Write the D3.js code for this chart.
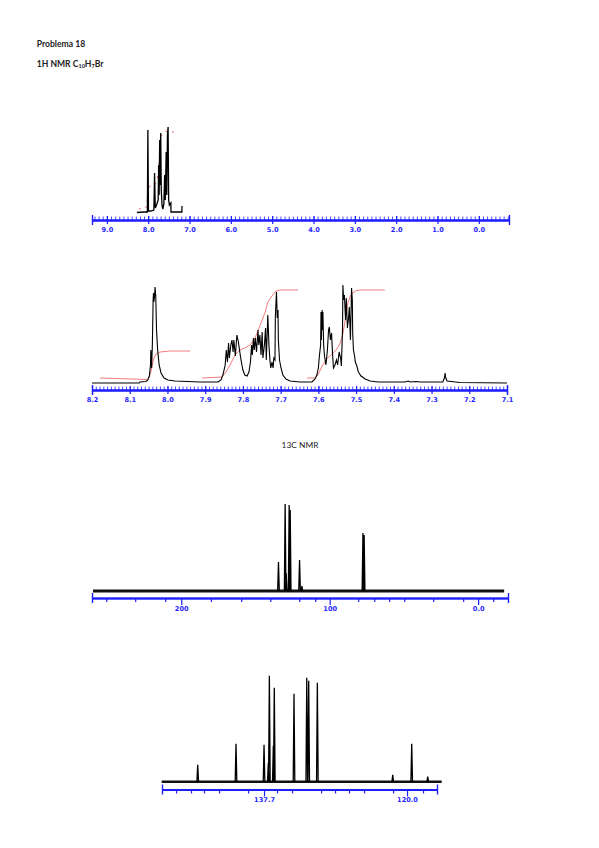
<!DOCTYPE html>
<html><head><meta charset="utf-8">
<script src="https://cdn.jsdelivr.net/npm/d3@7"></script>
<style>body{margin:0;background:#fff}svg{display:block}</style>
</head><body>
<svg id="c" width="599" height="848"></svg>
<script>
// ---------- DATA ----------
// Panel 1: 1H NMR full range (ppm, intensity)
const h1FullExtent = [9.36, -0.73];
const h1FullTicks = [9, 8, 7, 6, 5, 4, 3, 2, 1, 0];
const h1FullTickLabels = ["9.0","8.0","7.0","6.0","5.0","4.0","3.0","2.0","1.0","0.0"];
const h1FullSpectrum = [
 [8.274,-0.5],[8.105,0],[8.020,0],[8.008,82],[7.994,1],[7.935,1],[7.863,2],[7.846,39],[7.829,4],
 [7.790,8],[7.759,12],[7.747,47],[7.735,17],[7.722,72],[7.710,27],[7.698,79],[7.684,22],[7.664,6],
 [7.645,3],[7.621,8],[7.602,37],[7.587,12],[7.565,60],[7.551,17],[7.534,77],[7.519,85],[7.505,12],
 [7.488,7],[7.451,9],[7.449,0],[7.185,0],[7.183,6]
];
const h1FullIntegral = [
 [8.226,3],[8.056,4],[8.008,17],[7.960,26],[7.839,27],[7.790,31],[7.754,40],[7.718,60],[7.681,76],
 [7.645,80],[7.572,81],[7.524,80],[7.379,80]
];

// Panel 2: 1H NMR expansion 8.2 - 7.1 ppm
const h1ExpExtent = [8.2, 7.1];
const h1ExpTicks = [8.2,8.1,8.0,7.9,7.8,7.7,7.6,7.5,7.4,7.3,7.2,7.1];
const h1ExpTickLabels = ["8.2","8.1","8.0","7.9","7.8","7.7","7.6","7.5","7.4","7.3","7.2","7.1"];
const h1ExpSpectrum = [
 [8.200,0],[8.075,0],[8.073,1],[8.057,1.5],[8.052,3],[8.048,7],[8.045,18],[8.044,33],[8.042,15],
 [8.040,38],[8.038,83],[8.037,90],[8.036,81],[8.034,87],[8.033,96],[8.031,87],[8.029,53],[8.026,33],
 [8.022,18],[8.017,10],[8.009,5],[7.999,3],[7.980,2],[7.914,1],[7.866,1],[7.858,3],[7.853,8],
 [7.847,18],[7.844,33],[7.841,21],[7.838,40],[7.836,25],[7.832,38],[7.829,43],[7.826,31],[7.824,43],
 [7.820,27],[7.816,48],[7.812,41],[7.809,33],[7.805,23],[7.800,13],[7.795,8],[7.789,7],[7.784,11],
 [7.780,21],[7.777,38],[7.775,28],[7.772,45],[7.770,33],[7.767,45],[7.764,31],[7.760,53],[7.758,38],
 [7.755,48],[7.752,28],[7.749,51],[7.747,25],[7.743,38],[7.740,55],[7.738,23],[7.734,68],[7.731,38],
 [7.728,21],[7.726,15],[7.723,21],[7.720,15],[7.718,25],[7.715,23],[7.714,66],[7.712,83],[7.711,91],
 [7.709,65],[7.707,73],[7.706,43],[7.703,23],[7.699,15],[7.694,8],[7.686,4],[7.675,2],[7.649,1],
 [7.617,1],[7.609,4],[7.604,8],[7.600,15],[7.597,28],[7.594,38],[7.593,71],[7.592,43],[7.590,73],
 [7.589,53],[7.588,71],[7.586,38],[7.584,28],[7.580,18],[7.576,33],[7.573,53],[7.571,56],[7.568,43],
 [7.565,50],[7.563,33],[7.560,15],[7.556,18],[7.552,23],[7.549,18],[7.545,31],[7.541,25],[7.539,17],
 [7.536,53],[7.535,98],[7.533,83],[7.531,88],[7.528,63],[7.526,85],[7.523,55],[7.520,65],[7.518,76],
 [7.515,43],[7.512,95],[7.510,83],[7.509,50],[7.507,33],[7.504,27],[7.502,21],[7.498,17],[7.494,11],
 [7.487,7],[7.476,4],[7.463,2],[7.442,1],[7.370,1],[7.362,2],[7.357,1],[7.341,1.5],[7.331,1],
 [7.270,1],[7.266,5],[7.264,10],[7.263,6],[7.259,2],[7.225,0.5],[7.100,0]
];
const h1ExpIntegral1 = [[8.179,5],[8.054,3.5],[8.049,5],[8.044,11],[8.040,18],[8.036,25],[8.030,29],[8.020,31],[7.993,32],[7.940,32]];
const h1ExpIntegral2 = [[7.908,5],[7.855,6],[7.845,11],[7.834,18],[7.821,28],[7.808,33],[7.795,35],[7.781,38],[7.768,45],[7.755,57],[7.741,71],[7.734,81],[7.723,87],[7.712,92],[7.702,93],[7.654,93]];
const h1ExpIntegral3 = [[7.630,5],[7.609,5],[7.601,8],[7.590,17],[7.580,23],[7.567,28],[7.553,33],[7.543,39],[7.535,49],[7.527,67],[7.522,80],[7.514,88],[7.503,92],[7.490,93],[7.424,93]];

// Panel 3: 13C NMR full range
const c13FullExtent = [260.1, -20.1];
const c13FullBaseline = [259.4, -17.5];
const c13FullTicks = [200, 100, 0];
const c13FullTickLabels = ["200", "100", "0.0"];
const c13FullMinorTicks = [250.5, 231, 210.8, 180, 159.6, 140, 120.5, 109.8, 80.8, 70, 60, 49.8, 30.3, 10.1, -10.1];
const c13FullPeaks = [[134.5,29],[130.0,87],[129.3,18],[127.3,86],[126.6,81],[120.3,31],[118.7,5],[77.6,58],[76.8,56]];

// Panel 4: 13C NMR expansion
const c13ExpExtent = [150.33, 116.29];
const c13ExpBaseline = [150.37, 115.71];
const c13ExpTicks = [137.7, 120.0];
const c13ExpTickLabels = ["137.7", "120.0"];
const c13ExpMinorTicks = [148.59,146.74,145.13,143.27,139.68,136.09,134.23,130.64,128.91,127.18,125.32,121.73,118.02];
const c13ExpPeaks = [[145.91,17],[141.17,38],[137.70,37],[137.17,19],[137.04,106],[136.55,36],[136.43,94],[133.99,88],[132.41,104],[132.17,101],[131.10,99],[121.77,7],[119.42,38],[117.44,5]];

// ---------- DRAWING ----------
const svg = d3.select("#c");
const BLUE = "#1e1eff";
const RED = "#f06464";

svg.append("text").attr("x", 36.7).attr("y", 46.5)
  .attr("font-family", "Lato").attr("font-weight", "bold").attr("font-size", 8.6)
  .attr("fill", "#222").text("Problema 18");
const t2 = svg.append("text").attr("x", 36.7).attr("y", 66.7)
  .attr("font-family", "Lato").attr("font-weight", "bold").attr("font-size", 8.6).attr("fill", "#222");
t2.append("tspan").text("1H NMR C");
t2.append("tspan").attr("font-size", 5.5).attr("dy", 1.5).text("10");
t2.append("tspan").attr("dy", -1.5).text("H");
t2.append("tspan").attr("font-size", 5.5).attr("dy", 1.5).text("7");
t2.append("tspan").attr("dy", -1.5).text("Br");

svg.append("text").attr("x", 300).attr("y", 448.3).attr("text-anchor", "middle")
  .attr("font-family", "Lato").attr("font-size", 8.4).attr("fill", "#222").text("13C NMR");

function makeAxis(x, axisY, majors, labels, minors, up) {
  const g = svg.append("g").attr("transform", `translate(0,${axisY})`);
  const minorAxis = (up ? d3.axisTop(x) : d3.axisBottom(x))
    .tickValues(minors).tickSize(up ? 3.5 : 4).tickSizeOuter(0).tickFormat("");
  const gm = g.append("g").call(minorAxis);
  gm.selectAll(".tick line").attr("stroke-width", up ? 0.8 : 1.2);
  const majorAxis = d3.axisBottom(x).tickValues(majors)
    .tickFormat((d, i) => labels[i]).tickSize(up ? 4 : 7).tickPadding(up ? 3 : 1).tickSizeOuter(0);
  const gb = g.append("g").call(majorAxis);
  gb.selectAll(".tick line").attr("stroke-width", 1.2);
  if (up) {
    g.append("g").call(d3.axisTop(x).tickValues(majors).tickSize(4).tickSizeOuter(0).tickFormat(""))
      .selectAll(".tick line").attr("stroke-width", 1.2);
  }
  // end bars
  g.append("g").call(d3.axisBottom(x).tickValues(x.domain()).tickSize(5).tickSizeOuter(0).tickFormat(""))
    .selectAll(".tick line").attr("stroke-width", 1.4);
  g.append("g").call(d3.axisTop(x).tickValues(x.domain()).tickSize(5).tickSizeOuter(0).tickFormat(""))
    .selectAll(".tick line").attr("stroke-width", 1.4);
  g.selectAll("path.domain").attr("stroke", BLUE).attr("stroke-width", 1.5);
  g.selectAll(".tick line").attr("stroke", BLUE);
  g.selectAll(".tick text").attr("fill", BLUE).attr("font-family", "DejaVu Sans")
    .attr("font-weight", "bold").attr("font-size", 6.6);
}

// Panel 1
{
  const x = d3.scaleLinear().domain(h1FullExtent).range([92, 509]);
  const y = d3.scaleLinear().domain([0, 85]).range([212, 127]);
  makeAxis(x, 220, h1FullTicks, h1FullTickLabels, d3.range(-7, 94).map(i => i / 10), true);
  const line = d3.line().x(d => x(d[0])).y(d => y(d[1]));
  svg.append("path").datum(h1FullIntegral).attr("d", line).attr("fill", "none")
    .attr("stroke", RED).attr("stroke-width", 1).attr("stroke-dasharray", "2,5");
  svg.append("path").datum(h1FullSpectrum).attr("d", line).attr("fill", "none")
    .attr("stroke", "#000").attr("stroke-width", 1.3);
}

// Panel 2
{
  const x = d3.scaleLinear().domain(h1ExpExtent).range([92, 507]);
  const y = d3.scaleLinear().domain([0, 98]).range([383, 285]);
  makeAxis(x, 390, h1ExpTicks, h1ExpTickLabels, d3.range(710, 821).map(i => i / 100), true);
  const line = d3.line().x(d => x(d[0])).y(d => y(d[1]));
  [h1ExpIntegral1, h1ExpIntegral2, h1ExpIntegral3].forEach(dat => {
    svg.append("path").datum(dat).attr("d", line).attr("fill", "none")
      .attr("stroke", RED).attr("stroke-width", 1).attr("opacity", 0.85);
  });
  svg.append("path").datum(h1ExpSpectrum).attr("d", line).attr("fill", "none")
    .attr("stroke", "#000").attr("stroke-width", 1.1);
}

function stickPath(x, y, peaks) {
  // each peak drawn as a narrow spike from baseline to its height
  return peaks.map(p => {
    const px = x(p[0]);
    return `M${px - 0.8},${y(0)}L${px},${y(p[1])}L${px + 0.8},${y(0)}`;
  }).join("");
}

// Panel 3
{
  const x = d3.scaleLinear().domain(c13FullExtent).range([92, 508]);
  const y = d3.scaleLinear().domain([0, 87]).range([591, 504]);
  makeAxis(x, 598, c13FullTicks, c13FullTickLabels, c13FullMinorTicks, false);
  const line = d3.line().x(d => x(d[0])).y(d => y(d[1]));
  svg.append("path").datum(c13FullBaseline.map(v => [v, 0])).attr("d", line)
    .attr("stroke", "#111").attr("stroke-width", 2.8).attr("fill", "none");
  svg.append("path").attr("d", stickPath(x, y, c13FullPeaks)).attr("fill", "none")
    .attr("stroke", "#000").attr("stroke-width", 1.3);
}

// Panel 4
{
  const x = d3.scaleLinear().domain(c13ExpExtent).range([162, 437]);
  const y = d3.scaleLinear().domain([0, 106]).range([781.7, 675.7]);
  makeAxis(x, 789.5, c13ExpTicks, c13ExpTickLabels, c13ExpMinorTicks, false);
  const line = d3.line().x(d => x(d[0])).y(d => y(d[1]));
  svg.append("path").datum(c13ExpBaseline.map(v => [v, 0])).attr("d", line)
    .attr("stroke", "#111").attr("stroke-width", 2.5).attr("fill", "none");
  svg.append("path").attr("d", stickPath(x, y, c13ExpPeaks)).attr("fill", "none")
    .attr("stroke", "#000").attr("stroke-width", 1.3);
}
</script>
</body></html>
